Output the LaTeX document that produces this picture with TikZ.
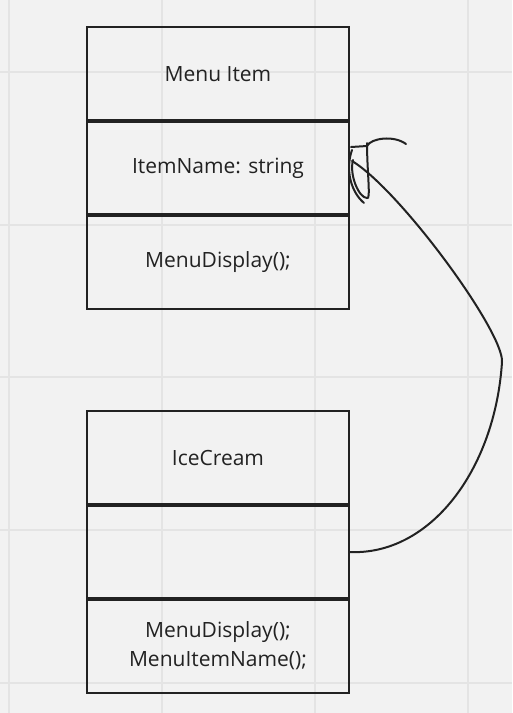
\documentclass[tikz,border=0pt]{standalone}
\usepackage{fontspec}
\setmainfont{Open Sans}
\usetikzlibrary{positioning,calc}
\definecolor{boardbg}{HTML}{F2F2F2}
\definecolor{gridln}{HTML}{E4E4E4}
\definecolor{ink}{HTML}{222222}

\begin{document}
\begin{tikzpicture}[
  x=1pt, y=-1pt, font=\fontsize{21}{29}\selectfont,
  compart/.style={draw=ink, line width=2.5pt, text=ink, inner sep=0pt, outer sep=0pt,
                  align=center, minimum width=262pt, minimum height=94pt},
  divider/.style={draw=ink, line width=4.5pt},
  gridline/.style={draw=gridln, line width=1.4pt},
  link/.style={draw=ink, line width=2pt, line cap=round},
]
% Whiteboard background and grid.
\fill[boardbg] (0,0) rectangle (512,713);
\useasboundingbox (0,0) rectangle (512,713);
\foreach \gx in {9,162,315,468}
  \draw[gridline] (\gx,0) -- (\gx,713);
\foreach \gy in {72,225,377,530,683}
  \draw[gridline] (0,\gy) -- (512,\gy);

% Menu Item class -- three stacked compartments.
\node[compart] (menuitem) at (218,74) {Menu Item};
\node[compart, below=0pt of menuitem] (itemname) {ItemName: string};
\node[compart, below=0pt of itemname] (menudisp) {MenuDisplay();};

% IceCream class, with an empty attribute compartment.
\node[compart] (icecream) at (218,458) {IceCream};
\node[compart, below=0pt of icecream] (icedata) {};
\node[compart, below=0pt of icedata] (iceops) {MenuDisplay();\\MenuItemName();};

% Thick separators between compartments.
\draw[divider] (menuitem.south west) -- (menuitem.south east);
\draw[divider] (itemname.south west) -- (itemname.south east);
\draw[divider] (icecream.south west) -- (icecream.south east);
\draw[divider] (icedata.south west) -- (icedata.south east);

% Hand-drawn link from IceCream up to Menu Item.
\coordinate (tip) at ($(itemname.east)+(3,-7)$);
\coordinate (bend) at (502,362);
\draw[link] (icedata.east) .. controls (430,556) and (495,470) .. (bend)
  .. controls (504,332) and (400,190) .. (tip);

% Scribbled arrowhead
\begin{scope}[shift={(tip)}]
  \draw[link] (-1,-14) -- (15,-15) .. controls (19,-23) and (42,-26) .. (54,-17);
  \draw[link] (15,-18) .. controls (15,10) and (19,40) .. (15,37)
    .. controls (7,37) and (-3,14) .. (1,-1);
  \draw[link] (0,-11) .. controls (-7,9) and (-1,31) .. (12,42);
\end{scope}
\end{tikzpicture}
\end{document}
